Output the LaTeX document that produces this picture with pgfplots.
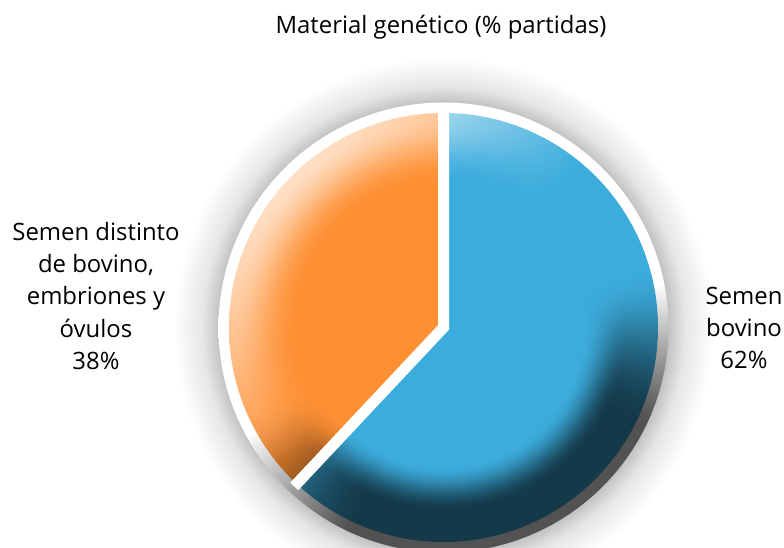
\documentclass[border=0pt]{standalone}
\usepackage{fontspec}
\setmainfont{Open Sans}
\usepackage{pgfplots}
\pgfplotsset{compat=1.18}
\usepackage{pgfplotstable}

\pgfplotstableread{
label value
bovino 62
otro 38
}\piedata

% soft glow around the pie
\pgfdeclareradialshading{glow}{\pgfpointorigin}{color(0bp)=(black!24); color(20.8bp)=(black!24); color(22.3bp)=(black!10); color(25bp)=(white); color(50bp)=(white)}

% 3D pie shading: base colour darkened at lower right rim, lightened at upper left rim
\newcommand\declarepieshade[4]{%
\pgfdeclarefunctionalshading{#1}{\pgfpoint{-50bp}{-50bp}}{\pgfpoint{50bp}{50bp}}{}{
25 div exch 25 div exch
2 copy dup mul exch dup mul add sqrt 0.0001 add
2 index 0.342 mul 2 index 0.940 mul sub 1 index div
3 index -0.707 mul 3 index 0.707 mul add 2 index div
2 index 0.64 sub 0.22 div dup 0 lt {pop 0} if dup 1 gt {pop 1} if dup dup mul exch -2 mul 3 add mul
2 index 0.05 sub 0.7 div dup 0 lt {pop 0} if dup 1 gt {pop 1} if dup dup mul exch -2 mul 3 add mul 1 index mul 0.67 mul
4 index 0.68 sub 0.32 div dup 0 lt {pop 0} if dup 1 gt {pop 1} if dup dup mul exch -2 mul 3 add mul
3 index 0.1 sub 0.9 div dup 0 lt {pop 0} if dup 1 gt {pop 1} if 1 index mul 0.72 mul
exch pop
8 2 roll pop pop pop pop pop pop
1 exch sub exch 1 exch sub exch
1 index #2 mul 1 exch sub 1 index mul 1 exch sub
2 index #3 mul 1 exch sub 2 index mul 1 exch sub
3 index #4 mul 1 exch sub 3 index mul 1 exch sub
5 3 roll pop pop
}}
\declarepieshade{blue3d}{0.235}{0.675}{0.863}
\declarepieshade{orange3d}{0.996}{0.565}{0.204}

\pgfdeclarefunctionalshading{rim3d}{\pgfpoint{-50bp}{-50bp}}{\pgfpoint{50bp}{50bp}}{}{
25 div exch 25 div exch
2 copy dup mul exch dup mul add sqrt 0.0001 add
2 index 0.342 mul 2 index 0.940 mul sub 1 index div
0.15 sub 0.55 div dup 0 lt {pop 0} if dup 1 gt {pop 1} if 0.68 mul 1 exch sub
4 1 roll pop pop pop
dup dup
}

\begin{document}
\begin{tikzpicture}
\pgfplotstablegetelem{0}{value}\of\piedata
\pgfmathsetmacro\vA{\pgfplotsretval}
\pgfmathsetmacro\angA{90-3.6*\vA}
\pgfmathsetmacro\angB{\angA+360}
\def\cx{443.5}
\def\cy{220.5}
\begin{axis}[
  x=1bp, y=1bp, xmin=0, xmax=784, ymin=0, ymax=548,
  hide axis, scale only axis, clip=false]
\begin{scope}
\clip (axis cs:0,0) rectangle (axis cs:784,548);
% glow
\shade[shading=glow] (axis cs:\cx,\cy) circle[radius=270bp];
% rim
\shade[shading=rim3d] (axis cs:\cx,\cy) circle[radius=225bp];
% slices
\begin{scope}
\clip (axis cs:\cx,\cy) -- ++(90:214.5bp) arc[start angle=90, end angle=\angA, radius=214.5bp] -- cycle;
\shade[shading=blue3d] (axis cs:\cx,\cy) circle[radius=214.5bp];
\end{scope}
\begin{scope}
\clip (axis cs:\cx,\cy) -- ++(90:214.5bp) arc[start angle=90, end angle=\angB, radius=214.5bp] -- cycle;
\shade[shading=orange3d] (axis cs:\cx,\cy) circle[radius=214.5bp];
\end{scope}
% separators
\draw[white, line width=11bp, line join=miter] ([shift={(90:218bp)}]axis cs:\cx,\cy) -- (axis cs:\cx,\cy) -- ([shift={(\angA:218bp)}]axis cs:\cx,\cy);
\end{scope}
% texts
\node[align=center, font=\fontsize{24}{32.5}\selectfont] at (axis cs:441,521) {Material genético (\% partidas)};
\node[align=center, font=\fontsize{24}{32.5}\selectfont] at (axis cs:96,252) {Semen distinto\\de bovino,\\embriones y\\óvulos\\38\%};
\node[align=center, font=\fontsize{24}{32.5}\selectfont] at (axis cs:744,220) {Semen\\bovino\\62\%};
\end{axis}
\pgfresetboundingbox
\path (current axis.south west) rectangle (current axis.north east);
\end{tikzpicture}
\end{document}
